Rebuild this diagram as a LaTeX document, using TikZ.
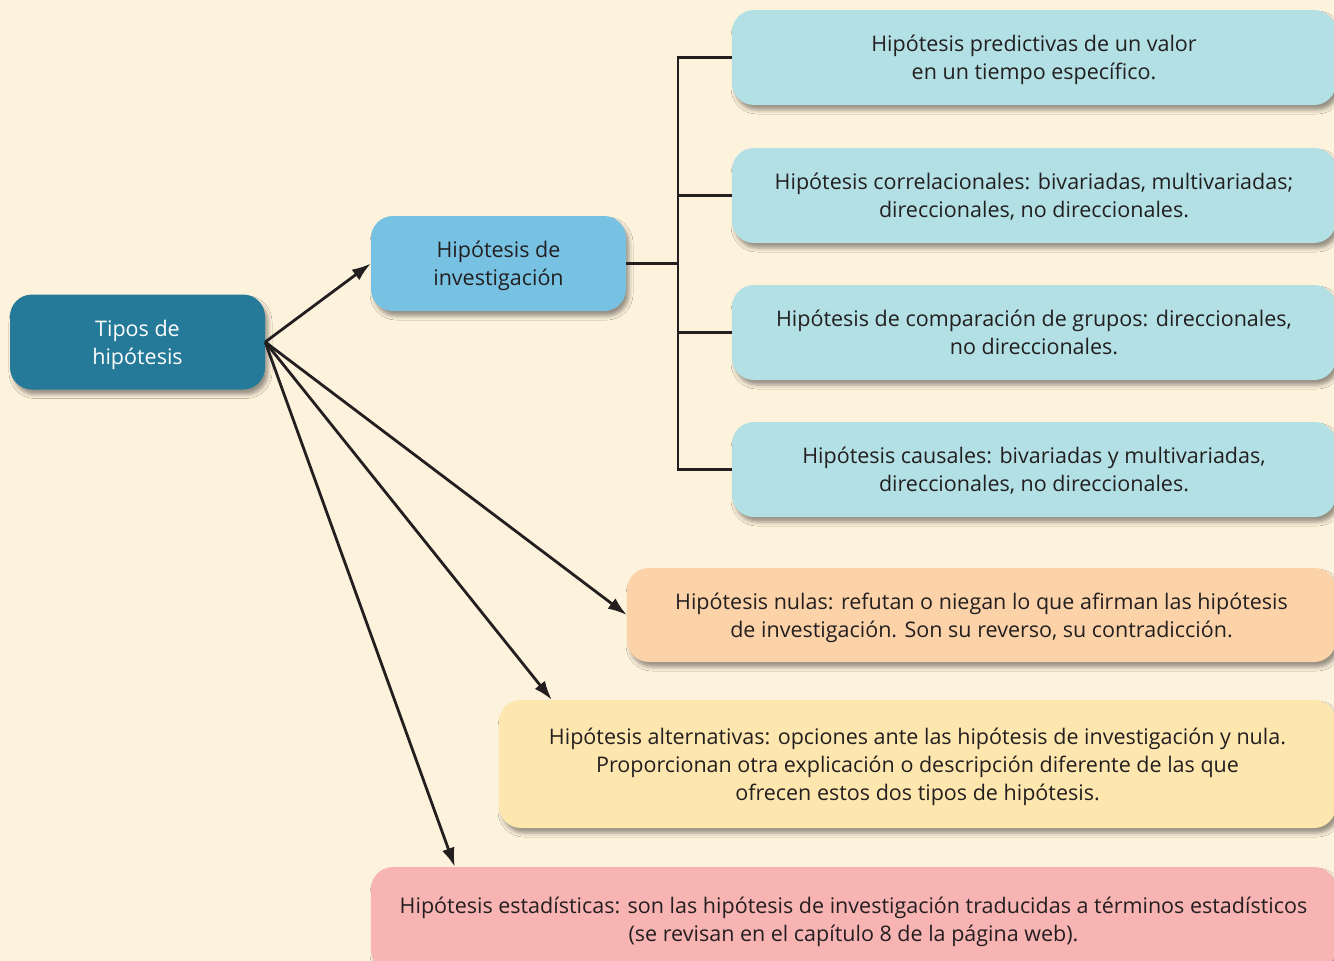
\documentclass[tikz,border=0pt]{standalone}
\usepackage{fontspec}
\setmainfont{Open Sans}
\usetikzlibrary{arrows.meta,shadows.blur,calc}
\definecolor{bgc}{HTML}{FDF2DC}
\definecolor{tipoc}{HTML}{247A98}
\definecolor{invc}{HTML}{77C1E3}
\definecolor{cyanc}{HTML}{B2E0E4}
\definecolor{nulc}{HTML}{FCD2A8}
\definecolor{altc}{HTML}{FEE6AF}
\definecolor{estc}{HTML}{F8B3B3}
\definecolor{txtc}{HTML}{231F20}
\tikzset{
  box/.style={rounded corners=22pt, inner sep=0pt, align=center, text=txtc,
    font=\fontsize{21.5pt}{28pt}\selectfont, text depth=-8pt,
    blur shadow={shadow xshift=3pt, shadow yshift=-5pt, shadow blur radius=4pt, shadow opacity=40}},
  conn/.style={draw=txtc, line width=2.8pt},
  arr/.style={conn, -{Latex[length=19pt,width=13pt]}}
}
\begin{document}
\begin{tikzpicture}[x=1pt,y=-1pt]
\fill[bgc] (0,0) rectangle (1334,961);
\useasboundingbox (0,0) rectangle (1334,961);
\clip (0,0) rectangle (1334,961);
\node[box, fill=tipoc, text=white, minimum width=255pt, minimum height=95pt] (t) at (137.5,342) {Tipos de\\hipótesis};
\node[box, fill=invc, minimum width=255pt, minimum height=95pt] (inv) at (498.5,263.5) {Hipótesis de\\investigación};
\node[box, fill=cyanc, minimum width=604pt, minimum height=95pt] (p1) at (1034,57.5) {Hipótesis predictivas de un valor\\en un tiempo específico.};
\node[box, fill=cyanc, minimum width=604pt, minimum height=95pt] (p2) at (1034,195.5) {Hipótesis correlacionales: bivariadas, multivariadas;\\direccionales, no direccionales.};
\node[box, fill=cyanc, minimum width=604pt, minimum height=95pt] (p3) at (1034,332.5) {Hipótesis de comparación de grupos: direccionales,\\no direccionales.};
\node[box, fill=cyanc, minimum width=604pt, minimum height=95pt] (p4) at (1034,469.5) {Hipótesis causales: bivariadas y multivariadas,\\direccionales, no direccionales.};
\node[box, fill=nulc, minimum width=709pt, minimum height=94pt] (nul) at (981.5,615) {Hipótesis nulas: refutan o niegan lo que afirman las hipótesis\\de investigación. Son su reverso, su contradicción.};
\node[box, fill=altc, minimum width=837pt, minimum height=128pt] (alt) at (917.5,764) {Hipótesis alternativas: opciones ante las hipótesis de investigación y nula.\\Proporcionan otra explicación o descripción diferente de las que\\ofrecen estos dos tipos de hipótesis.};
\node[box, fill=estc, minimum width=965pt, minimum height=104pt] (est) at (853.5,919) {Hipótesis estadísticas: son las hipótesis de investigación traducidas a términos estadísticos\\(se revisan en el capítulo 8 de la página web).};
\coordinate (bx) at (678,0);
\draw[conn] (inv.east) -- (inv.east -| bx);
\draw[conn] (p1.west) -- (p1.west -| bx) -- (p4.west -| bx) -- (p4.west);
\draw[conn] (p2.west) -- (p2.west -| bx);
\draw[conn] (p3.west) -- (p3.west -| bx);
\draw[arr] (t.east) -- (inv.west);
\draw[arr] (t.east) -- (nul.west);
\draw[arr] (t.east) -- ($(alt.north west)+(53,0)$);
\draw[arr] (t.east) -- ($(est.north west)+(84,0)$);
\end{tikzpicture}
\end{document}
